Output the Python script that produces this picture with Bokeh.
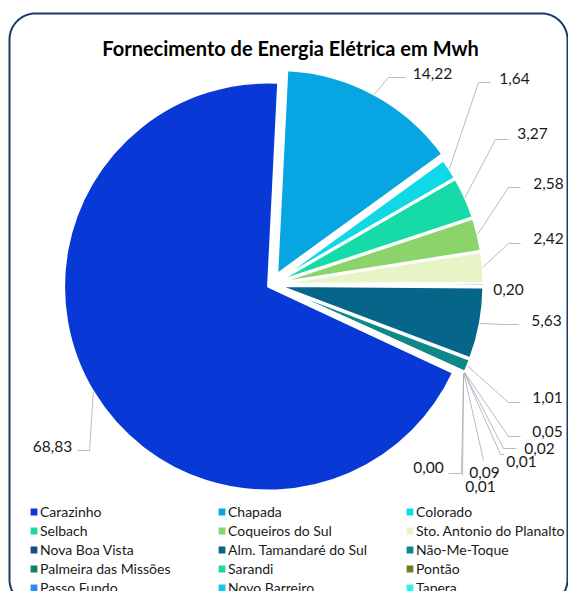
import numpy as np
from bokeh.plotting import figure
from bokeh.models import ColumnDataSource, Range1d, Label
from bokeh.core.properties import value
from bokeh.embed import file_html
from bokeh.resources import INLINE

# ---------------- data ----------------
cities = ["Carazinho", "Chapada", "Colorado", "Selbach", "Coqueiros do Sul",
          "Sto. Antonio do Planalto", "Nova Boa Vista", "Alm. Tamandaré do Sul",
          "Não-Me-Toque", "Palmeira das Missões", "Sarandi", "Pontão",
          "Passo Fundo", "Novo Barreiro", "Tapera"]
values = [68.83, 14.22, 1.64, 3.27, 2.58, 2.42, 0.20, 5.63, 1.01,
          0.05, 0.02, 0.01, 0.09, 0.01, 0.00]
colors = ["#0838D6", "#07A6E3", "#11D8E6", "#17DBA6", "#8AD46B", "#E7F5C6",
          "#164C85", "#06668A", "#0E8888", "#118064", "#19DBA0", "#6C7F27",
          "#2C8CF0", "#15C6F2", "#2EF2F2"]
title_text = "Fornecimento de Energia Elétrica em Mwh"

# ---------------- layout (page pixels) ----------------
W, H = 568, 591
def X(px): return px
def Y(py): return H - py

CX, CY, R = 271, 284, 204
FIRST_ANGLE = 115.0          # degrees clockwise from 12 o'clock
MIN_SPAN = 0.05              # degrees, so that an empty slice is not drawn as a full disc
explode = np.array([4, 12, 8, 8, 8, 8, 8, 8, 8, 8, 8, 8, 8, 8, 8], dtype=float)

# label centres and leader bend points (page px)
label_xy = [(52, 446), (432, 73), (514, 78), (532, 133), (548, 183), (548, 238),
            (508, 289), (546, 320), (547, 397), (547, 431), (539, 448), (521, 461),
            (484, 472), (480, 486), (428, 467)]
leader_pts = [
    [(89, 450), (77, 450)],
    [(388, 77), (405, 77)],
    [(478, 82), (490, 82)],
    [(495, 139), (508, 139)],
    [(508, 187), (520, 187)],
    [(508, 243), (520, 243)],
    None,
    [(505, 324), (518, 324)],
    [(508, 402), (520, 402)],
    [(508, 436), (520, 436)],
    [(503, 448), (516, 448)],
    [(500, 454), (504, 454)],
    [(483, 460)],
    [(462, 475)],
    [(461, 473), (448, 473)],
]

# ---------------- geometry from data ----------------
vals = np.array(values)
span = vals / vals.sum() * 360.0
start_cw = FIRST_ANGLE + np.concatenate([[0.0], np.cumsum(span)[:-1]])
end_cw = start_cw + np.maximum(span, MIN_SPAN)
mid = np.radians((start_cw + end_cw) / 2)
ux, uy = np.sin(mid), np.cos(mid)           # unit vector, y up
cx = X(CX) + explode * ux
cy = Y(CY) + explode * uy

src = ColumnDataSource(dict(
    city=cities, value=values, color=colors, x=cx, y=cy,
    start=np.radians(90 - end_cw), end=np.radians(90 - start_cw)))

p = figure(width=W, height=H, output_backend="svg", toolbar_location=None,
           x_range=Range1d(0, W), y_range=Range1d(0, H),
           x_axis_type=None, y_axis_type=None, min_border=0,
           background_fill_color="white", border_fill_color="white")
p.grid.visible = False
p.outline_line_color = None

# rounded frame
fl, ft, fr, fb, rr = 9, 13, 567, 605, 26
pts = []
for (ccx, ccy, a0, a1) in [(fr - rr, ft + rr, -90, 0), (fr - rr, fb - rr, 0, 90),
                           (fl + rr, fb - rr, 90, 180), (fl + rr, ft + rr, 180, 270)]:
    a = np.radians(np.linspace(a0, a1, 20))
    pts += [(ccx + rr * np.cos(t), ccy + rr * np.sin(t)) for t in a]
pts.append(pts[0])
p.line([X(q[0]) for q in pts], [Y(q[1]) for q in pts], line_color="#1C3A66", line_width=2)

# pie
p.wedge(x="x", y="y", radius=R, radius_units="screen", start_angle="start", end_angle="end",
        fill_color="color", line_color="white", line_width=2, source=src,
        legend_field="city")

# leader lines
xs, ys = [], []
for i, pl in enumerate(leader_pts):
    if pl is None:
        continue
    sx = cx[i] + R * ux[i]
    sy = cy[i] + R * uy[i]
    xs.append([sx] + [X(q[0]) for q in pl])
    ys.append([sy] + [Y(q[1]) for q in pl])
p.multi_line(xs, ys, line_color="#A3ABB6", line_width=0.8)

# data labels
lab = ColumnDataSource(dict(
    x=[X(q[0]) for q in label_xy], y=[Y(q[1]) for q in label_xy],
    t=[f"{v:.2f}".replace(".", ",") for v in values]))
p.text(x="x", y="y", text="t", source=lab, text_align="center", text_baseline="middle",
       text_font=value("Lato"), text_font_size="15.5px", text_color="#1A1A1A")

# title
p.add_layout(Label(x=X(290), y=Y(47), text=title_text, text_align="center",
                   text_baseline="middle", text_font="Lato", text_font_style="bold",
                   text_font_size="20px", text_color="#000000"))

# legend
lg = p.legend[0]
lg.orientation = "horizontal"
lg.ncols = 3
lg.location = (X(28), -5.5)
lg.padding = 0
lg.margin = 0
lg.spacing = 0
lg.glyph_width = 11
lg.glyph_height = 11
lg.label_standoff = 1
lg.label_width = 176
lg.label_height = 19
lg.label_text_font = "Lato"
lg.label_text_font_size = "14px"
lg.label_text_color = "#1A1A1A"
lg.border_line_color = None
lg.background_fill_alpha = 0

open("out.html", "w").write(file_html(p, INLINE))
